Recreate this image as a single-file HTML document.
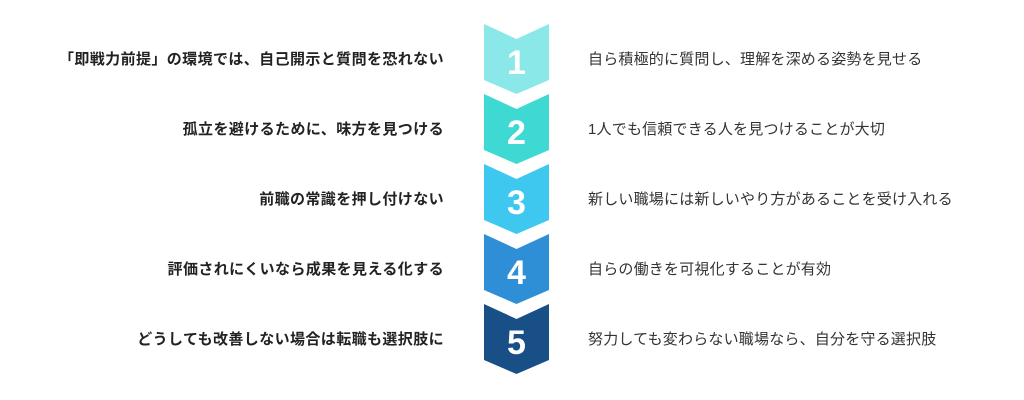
<!DOCTYPE html>
<html><head><meta charset="utf-8"><style>
html,body{margin:0;padding:0;background:#fff;width:1024px;height:400px;overflow:hidden;position:relative;font-family:"Liberation Sans","Noto Sans CJK JP",sans-serif;}
.l{position:absolute;right:580px;font-size:15px;font-weight:bold;color:#222;white-space:nowrap;line-height:20px;letter-spacing:0.4px;}
.r{position:absolute;left:588px;font-size:15px;color:#333;white-space:nowrap;line-height:20px;letter-spacing:0.2px;}
svg{position:absolute;left:0;top:0}
</style></head><body>
<svg width="1024" height="400">
<g font-family="Liberation Sans, sans-serif" font-weight="bold" font-size="34" fill="#fff" text-anchor="middle">
<polygon points="484,24 516.5,39 549,24 549,80 516.5,94 484,80" fill="#8ae8e8"/>
<text x="516.5" y="74">1</text>
<polygon points="484,94 516.5,109 549,94 549,150 516.5,164 484,150" fill="#3ed9d3"/>
<text x="516.5" y="144">2</text>
<polygon points="484,164 516.5,179 549,164 549,220 516.5,234 484,220" fill="#3ec8ef"/>
<text x="516.5" y="214">3</text>
<polygon points="484,234 516.5,249 549,234 549,290 516.5,304 484,290" fill="#2f8fd6"/>
<text x="516.5" y="284">4</text>
<polygon points="484,304 516.5,319 549,304 549,360 516.5,374 484,360" fill="#174f86"/>
<text x="516.5" y="354">5</text>
</g>
</svg>
<div class="l" style="top:50px">「即戦力前提」の環境では、自己開示と質問を恐れない</div>
<div class="l" style="top:120px">孤立を避けるために、味方を見つける</div>
<div class="l" style="top:190px">前職の常識を押し付けない</div>
<div class="l" style="top:260px">評価されにくいなら成果を見える化する</div>
<div class="l" style="top:330px">どうしても改善しない場合は転職も選択肢に</div>
<div class="r" style="top:50px">自ら積極的に質問し、理解を深める姿勢を見せる</div>
<div class="r" style="top:120px">1人でも信頼できる人を見つけることが大切</div>
<div class="r" style="top:190px">新しい職場には新しいやり方があることを受け入れる</div>
<div class="r" style="top:260px">自らの働きを可視化することが有効</div>
<div class="r" style="top:330px">努力しても変わらない職場なら、自分を守る選択肢</div>
</body></html>
